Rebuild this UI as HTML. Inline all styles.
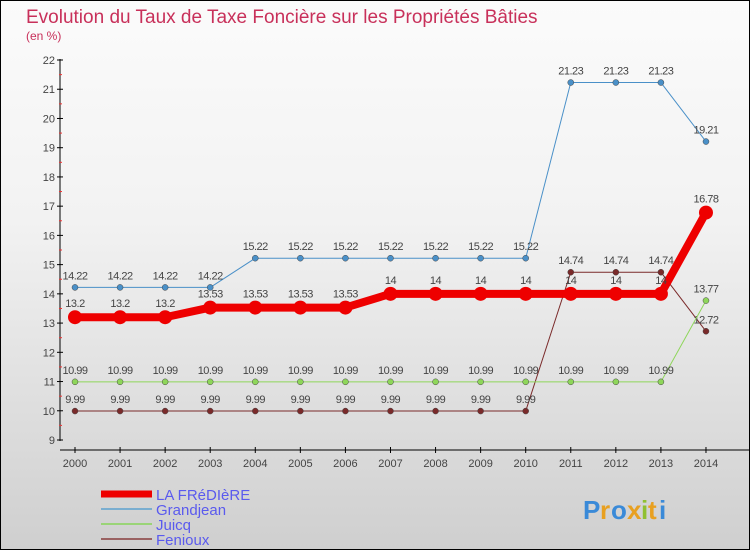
<!DOCTYPE html>
<html><head><meta charset="utf-8"><style>
body{margin:0}
#c{width:748px;height:548px;border:1px solid #000;background:linear-gradient(#fbfbfb,#f2f2f2 40%,#cfcfcf);position:relative;font-family:"Liberation Sans",sans-serif;overflow:hidden}
</style></head><body>
<div id="c">
<svg id="s" width="748" height="548"></svg>
</div>
<script>
const years=[2000,2001,2002,2003,2004,2005,2006,2007,2008,2009,2010,2011,2012,2013,2014];
const fred=[13.2,13.2,13.2,13.53,13.53,13.53,13.53,14,14,14,14,14,14,14,16.78];
const grand=[14.22,14.22,14.22,14.22,15.22,15.22,15.22,15.22,15.22,15.22,15.22,21.23,21.23,21.23,19.21];
const juicq=[10.99,10.99,10.99,10.99,10.99,10.99,10.99,10.99,10.99,10.99,10.99,10.99,10.99,10.99,13.77];
const fen=[9.99,9.99,9.99,9.99,9.99,9.99,9.99,9.99,9.99,9.99,9.99,14.74,14.74,14.74,12.72];
const yTicks=[9,10,11,12,13,14,15,16,17,18,19,20,21,22];
const NS="http://www.w3.org/2000/svg",s=document.getElementById('s');
const X=i=>74+i*45.07, Y=v=>439-(v-9)*29.23;
function el(t,a,p){const e=document.createElementNS(NS,t);for(const k in a)e.setAttribute(k,a[k]);(p||s).appendChild(e);return e;}
function tx(x,y,str,a){const e=el('text',Object.assign({x:x,y:y},a));e.textContent=str;return e;}
let t=tx(25,22,'Evolution du Taux de Taxe Foncière sur les Propriétés Bâties',{fill:'#c8305a','font-size':19});

t=tx(25,39,'(en %)',{fill:'#c8305a','font-size':12});

let ax=el('line',{x1:59,y1:58,x2:59,y2:440,stroke:'#000'});
ax=el('line',{x1:59,y1:449,x2:748,y2:449,stroke:'#000'});
yTicks.forEach(v=>{el('line',{x1:56,x2:62,y1:Y(v),y2:Y(v),stroke:'#000'});
 if(v<22)el('line',{x1:58,x2:61,y1:Y(v+0.5),y2:Y(v+0.5),stroke:'#e33'});
 const l=tx(54,Y(v)+4,v,{'text-anchor':'end','font-size':11,fill:'#444'});});
years.forEach((y,i)=>{el('line',{x1:X(i),x2:X(i),y1:446,y2:452,stroke:'#000'});
 const l=tx(X(i),466,y,{'text-anchor':'middle','font-size':11,fill:'#444'});});
function series(d,col,w,r,name,fmt,dy){
 const g=el('g',{});
 el('polyline',{points:d.map((v,i)=>X(i)+','+Y(v)).join(' '),fill:'none',stroke:col,'stroke-width':w,'stroke-linejoin':'round'},g);
 d.forEach((v,i)=>{const c=el('circle',{cx:X(i),cy:Y(v),r:r,fill:col,stroke:r>4?col:'#444','stroke-width':r>4?0:0.5},g);
  const l=tx(X(i),Y(v)+dy,String(v),{'text-anchor':'middle','font-size':11,fill:'#444','letter-spacing':'-0.5'},g);});
}
series(fen,'#7a2a2a',1,3,'fenioux-series',0,-8);
series(juicq,'#8ed65a',1,3,'juicq-series',0,-8);
series(grand,'#4a90c8',1,3,'grandjean-series',0,-8);
series(fred,'#ee0000',8,7,'la-fredière-series',0,-10);
const leg=[['LA FRéDIèRE','#ee0000',7],['Grandjean','#7aaed0',2],['Juicq','#9ad477',2],['Fenioux','#9a6262',2]];
leg.forEach((L,i)=>{const y=493+i*15;const g=el('g',{});
 el('line',{x1:100,x2:151,y1:y,y2:y,stroke:L[1],'stroke-width':L[2]},g);
 tx(155,y+6,L[0],{fill:'#5a5aee','font-size':15},g);});
const lg=el('g',{});
[['P','#3a8ad8'],['r','#e8a020'],['o','#3a8ad8'],['x','#e8a020'],['i','#90c030'],['t','#e8a020'],['i','#3a8ad8']].forEach((c,i)=>{
 tx(582+[0,17,28,44,58,65,76][i],518,c[0],{fill:c[1],'font-size':26,'font-weight':'bold'},lg);});
</script>
</body></html>
